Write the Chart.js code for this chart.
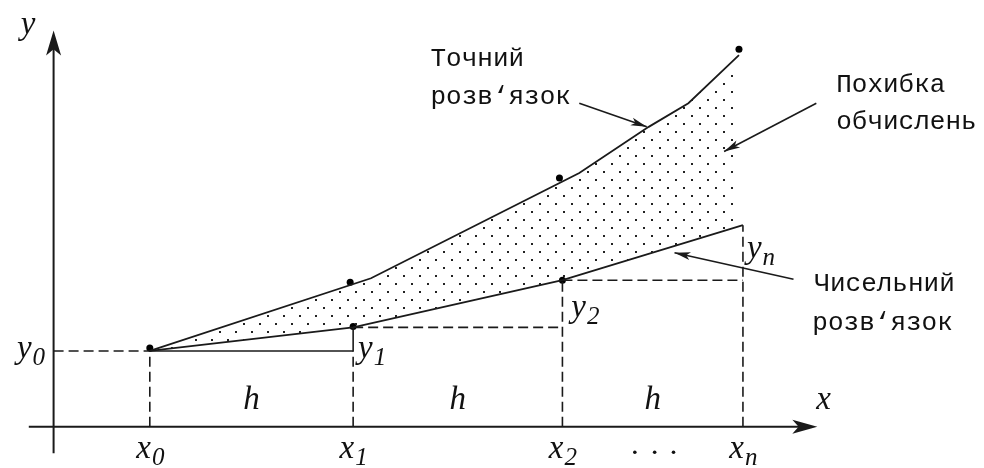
<!DOCTYPE html>
<html>
<head>
<meta charset="utf-8">
<script src="https://cdn.jsdelivr.net/npm/chart.js@4.4.1/dist/chart.umd.min.js"></script>
<style>
html, body { margin: 0; padding: 0; background: #fff; overflow: hidden; }
canvas { display: block; }
</style>
</head>
<body>
<canvas id="chart" width="984" height="468"></canvas>
<script>
// nodes x0, x1, x2, xn (1 unit = step scale of the drawing)
const xNodes = [0.97, 3.02, 5.13, 6.95];
const xSubs = ['0', '1', '2', 'n'];

// exact solution curve
const exactX = [0.97, 3.20, 5.30, 6.00, 6.40, 6.91];
const exactY = [0.77, 1.51, 2.58, 3.05, 3.29, 3.78];

// numerical (Euler) solution at the nodes
const numericY = [0.77, 1.01, 1.49, 2.05];

// marked points of the exact solution
const exactMarkX = [0.97, 2.99, 5.10, 6.91];
const exactMarkY = [0.80, 1.47, 2.53, 3.84];

// marked points of the numerical solution
const numericMarkX = [3.02, 5.13];
const numericMarkY = [1.02, 1.49];

const INK = '#1a1a1a';

function dotPattern() {
    const c = document.createElement('canvas');
    c.width = 16;
    c.height = 16;
    const g = c.getContext('2d');
    g.fillStyle = '#222';
    g.fillRect(3, 3, 2, 2);
    g.fillRect(11, 11, 2, 2);
    return g.createPattern(c, 'repeat');
}

function pts(xs, ys) {
    return xs.map((x, i) => ({ x: x, y: ys[i] }));
}

function seg(x1, y1, x2, y2, dashed) {
    return {
        data: [{ x: x1, y: y1 }, { x: x2, y: y2 }],
        showLine: true,
        borderColor: INK,
        borderWidth: 1.6,
        borderDash: dashed ? [10, 5] : [],
        pointRadius: 0,
        fill: false
    };
}

const guides = [
    seg(0, numericY[0], xNodes[0], numericY[0], true),
    seg(xNodes[0], 0, xNodes[0], numericY[0], true),
    seg(xNodes[0], numericY[0], xNodes[1], numericY[0], false),
    seg(xNodes[1], numericY[0], xNodes[1], numericY[1], false),
    seg(xNodes[1], 0, xNodes[1], numericY[0], true),
    seg(xNodes[1], numericY[1], xNodes[2], numericY[1], true),
    seg(xNodes[2], 0, xNodes[2], numericY[2], true),
    seg(xNodes[2], numericY[2], xNodes[3], numericY[2], true),
    seg(xNodes[3], 0, xNodes[3], numericY[3], true)
];

function arrowHead(ctx, tx, ty, angle, len, half) {
    const bx = tx - Math.cos(angle) * len;
    const by = ty - Math.sin(angle) * len;
    const nx = tx - Math.cos(angle) * len * 0.75;
    const ny = ty - Math.sin(angle) * len * 0.75;
    const px = -Math.sin(angle) * half;
    const py = Math.cos(angle) * half;
    ctx.beginPath();
    ctx.moveTo(tx, ty);
    ctx.lineTo(bx + px, by + py);
    ctx.lineTo(nx, ny);
    ctx.lineTo(bx - px, by - py);
    ctx.closePath();
    ctx.fill();
}

function arrow(ctx, x1, y1, x2, y2) {
    ctx.beginPath();
    ctx.moveTo(x1, y1);
    ctx.lineTo(x2, y2);
    ctx.stroke();
    arrowHead(ctx, x2, y2, Math.atan2(y2 - y1, x2 - x1), 16, 4);
}

// italic symbol with a subscript, e.g. x0, y1
function symbol(ctx, main, sub, x, y, align) {
    ctx.font = 'italic 33px "Liberation Serif"';
    const w1 = ctx.measureText(main).width;
    ctx.font = 'italic 25px "Liberation Serif"';
    const w2 = sub ? ctx.measureText(sub).width : 0;
    let left = x;
    if (align === 'center') left = x - (w1 + w2) / 2;
    ctx.textAlign = 'left';
    ctx.font = 'italic 33px "Liberation Serif"';
    ctx.fillText(main, left, y);
    if (sub) {
        ctx.font = 'italic 25px "Liberation Serif"';
        ctx.fillText(sub, left + w1 + 1, y + 7);
    }
}

const drawing = {
    id: 'drawing',
    beforeDatasetsDraw(chart) {
        const ctx = chart.ctx;
        const sx = chart.scales.x, sy = chart.scales.y;
        const X = v => sx.getPixelForValue(v);
        const Y = v => sy.getPixelForValue(v);
        ctx.save();
        ctx.strokeStyle = INK;
        ctx.fillStyle = INK;
        ctx.lineWidth = 2;
        // x axis
        ctx.beginPath();
        ctx.moveTo(X(-0.25), Y(0));
        ctx.lineTo(X(7.55), Y(0));
        ctx.stroke();
        arrowHead(ctx, X(7.70), Y(0), 0, 25, 7);
        // y axis
        ctx.beginPath();
        ctx.moveTo(X(0), Y(-0.27));
        ctx.lineTo(X(0), Y(3.85));
        ctx.stroke();
        arrowHead(ctx, X(0), Y(4.03), -Math.PI / 2, 25, 7.5);
        ctx.restore();
    },
    afterDatasetsDraw(chart) {
        const ctx = chart.ctx;
        const sx = chart.scales.x, sy = chart.scales.y;
        const X = v => sx.getPixelForValue(v);
        const Y = v => sy.getPixelForValue(v);
        ctx.save();
        ctx.strokeStyle = INK;
        ctx.fillStyle = INK;
        ctx.lineWidth = 1.6;

        // pointer arrows
        arrow(ctx, X(5.30), Y(3.29), X(5.98), Y(3.05));
        arrow(ctx, X(7.69), Y(3.29), X(6.76), Y(2.80));
        arrow(ctx, X(7.46), Y(1.50), X(6.26), Y(1.77));

        ctx.fillStyle = '#111';
        ctx.textBaseline = 'alphabetic';

        // axis names
        symbol(ctx, 'y', '', X(-0.33), Y(3.99), 'left');
        symbol(ctx, 'x', '', X(7.69), Y(0.18), 'left');

        // node labels under the x axis
        xNodes.forEach((v, i) => symbol(ctx, 'x', xSubs[i], X(v), Y(-0.32), 'center'));

        // h between nodes
        for (let i = 0; i < xNodes.length - 1; i++) {
            symbol(ctx, 'h', '', X((xNodes[i] + xNodes[i + 1]) / 2), Y(0.18), 'center');
        }

        // y labels
        symbol(ctx, 'y', '0', X(-0.37), Y(0.70), 'left');
        symbol(ctx, 'y', '1', X(3.07), Y(0.70), 'left');
        symbol(ctx, 'y', '2', X(5.22), Y(1.12), 'left');
        symbol(ctx, 'y', 'n', X(6.99), Y(1.72), 'left');

        // dots between x2 and xn
        [5.86, 6.06, 6.25].forEach(v => {
            ctx.beginPath();
            ctx.arc(X(v), Y(-0.26), 1.8, 0, Math.PI * 2);
            ctx.fill();
        });

        // captions
        ctx.font = '26px "Liberation Mono"';
        ctx.textAlign = 'left';
        ctx.fillText('Точний', X(3.80), Y(3.67));
        ctx.fillText('розв‘язок', X(3.80), Y(3.28));
        ctx.fillText('Похибка', X(7.89), Y(3.40));
        ctx.fillText('обчислень', X(7.89), Y(3.03));
        ctx.fillText('Чисельний', X(7.67), Y(1.38));
        ctx.fillText('розв‘язок', X(7.65), Y(0.98));
        ctx.restore();
    }
};

new Chart(document.getElementById('chart'), {
    type: 'scatter',
    data: {
        datasets: [
            {
                label: 'Точний розв‘язок',
                data: pts(exactX, exactY),
                showLine: true,
                borderColor: INK,
                borderWidth: 1.8,
                pointRadius: 0,
                fill: { target: 1 },
                backgroundColor: dotPattern()
            },
            {
                label: 'Чисельний розв‘язок',
                data: pts(xNodes, numericY),
                showLine: true,
                borderColor: INK,
                borderWidth: 1.8,
                pointRadius: 0,
                fill: false
            },
            ...guides,
            {
                data: pts(exactMarkX, exactMarkY),
                pointRadius: 3.5,
                pointBackgroundColor: '#000',
                pointBorderWidth: 0
            },
            {
                data: pts(numericMarkX, numericMarkY),
                pointRadius: 3.5,
                pointBackgroundColor: '#000',
                pointBorderWidth: 0
            }
        ]
    },
    options: {
        responsive: false,
        devicePixelRatio: 1,
        animation: false,
        layout: { padding: 0 },
        plugins: {
            legend: { display: false },
            tooltip: { enabled: false }
        },
        scales: {
            x: { type: 'linear', min: -0.5, max: 9.34, display: false },
            y: { type: 'linear', min: -0.38, max: 4.30, display: false }
        }
    },
    plugins: [drawing]
});
</script>
</body>
</html>
